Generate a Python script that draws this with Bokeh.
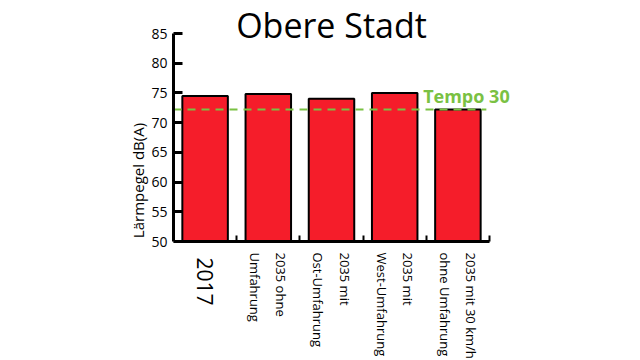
import math
from bokeh.plotting import figure
from bokeh.models import Range1d, FixedTicker, ColumnDataSource
from bokeh.core.properties import value
from bokeh.embed import file_html
from bokeh.resources import INLINE

title_text = "Obere Stadt"
categories = ["2017", "2035 ohne\nUmfahrung", "2035 mit\nOst-Umfahrung",
              "2035 mit\nWest-Umfahrung", "2035 mit 30 km/h\nohne Umfahrung"]
values = [74.5, 74.8, 74.0, 75.0, 72.2]
tempo30_value = 72.2
tempo30_label = "Tempo 30"
y_ticks = [50, 55, 60, 65, 70, 75, 80, 85]
y_min, y_max = 50, 85
y_label = "Lärmpegel dB(A)"

FONT = "Open Sans"
RED = "#f51d2a"
GREEN = "#7ac143"

n = len(categories)
xs = [i + 0.5 for i in range(n)]

# pixel layout of the data area inside a 640x360 canvas
W, H = 640, 360
left_px, right_px = 173, 489     # x=0 .. x=n
top_px, base_px = 33, 241        # y=85 .. y=50
border_left, border_right, border_bottom = 173, 8, 0
frame_bottom = H - border_bottom
kx = (right_px - left_px) / n
ky = (base_px - top_px) / (y_max - y_min)
x_end = n + ((W - border_right) - right_px) / kx
y_top = y_max + top_px / ky
y_bot = y_min - (frame_bottom - base_px) / ky

p = figure(width=W, height=H, output_backend="svg", toolbar_location=None,
           x_range=Range1d(0, x_end), y_range=Range1d(y_bot, y_top),
           min_border_left=border_left, min_border_right=border_right,
           min_border_top=0, min_border_bottom=border_bottom)
p.title.visible = False
p.outline_line_color = None
p.xgrid.grid_line_color = None
p.ygrid.grid_line_color = None
p.background_fill_color = "white"
p.border_fill_color = "white"

p.vbar(x=xs, top=values, bottom=y_min, width=0.72, fill_color=RED,
       line_color="black", line_width=2)

p.segment(x0=[0], x1=[n - 0.05], y0=[tempo30_value], y1=[tempo30_value],
          line_color=GREEN, line_width=2, line_dash="8 6")
p.text(x=[n - 1.05], y=[tempo30_value], text=[tempo30_label],
       text_color=GREEN, text_font=value(FONT), text_font_size="18px",
       text_font_style="bold", text_baseline="bottom", y_offset=-2)

# title
p.text(x=[n / 2], y=[y_max], text=[title_text], text_align="center",
       text_baseline="bottom", text_font=value(FONT),
       text_font_size="34px", text_color="black", y_offset=14)

# y axis
ya = p.yaxis[0]
ya.ticker = FixedTicker(ticks=y_ticks)
ya.bounds = (y_min, y_max)
ya.axis_line_width = 3
ya.axis_line_color = "black"
ya.major_tick_in = 9
ya.major_tick_out = 0
ya.major_tick_line_width = 3
ya.minor_tick_line_color = None
ya.major_label_text_font = FONT
ya.major_label_text_font_size = "14px"
ya.major_label_text_color = "black"
ya.major_label_standoff = 6
ya.axis_label = y_label
ya.axis_label_text_font = FONT
ya.axis_label_text_font_size = "15px"
ya.axis_label_text_font_style = "normal"
ya.axis_label_text_color = "black"
ya.axis_label_standoff = 0

# x axis at y=50 with boundary notches (minor ticks only, no labels)
xa = p.xaxis[0]
xa.fixed_location = y_min
xa.bounds = (0, n)
xa.ticker = FixedTicker(ticks=[], minor_ticks=list(range(1, n + 1)))
xa.axis_line_width = 3
xa.axis_line_color = "black"
xa.major_tick_line_color = None
xa.minor_tick_in = 6
xa.minor_tick_out = 0
xa.minor_tick_line_width = 2
xa.minor_tick_line_color = "black"

# category labels, rotated to read top to bottom
src = ColumnDataSource(dict(
    x=xs, y=[y_min] * n, text=categories,
    size=["21px" if i == 0 else "13px" for i in range(n)],
    off=[16 if i == 0 else 11 for i in range(n)],
))
p.text(x="x", y="y", text="text", source=src, angle=-math.pi / 2,
       text_align="left", text_baseline="middle", text_font=value(FONT),
       text_font_size="size", y_offset="off", text_color="black",
       text_line_height=1.45)

open("out.html", "w").write(file_html(p, INLINE))
